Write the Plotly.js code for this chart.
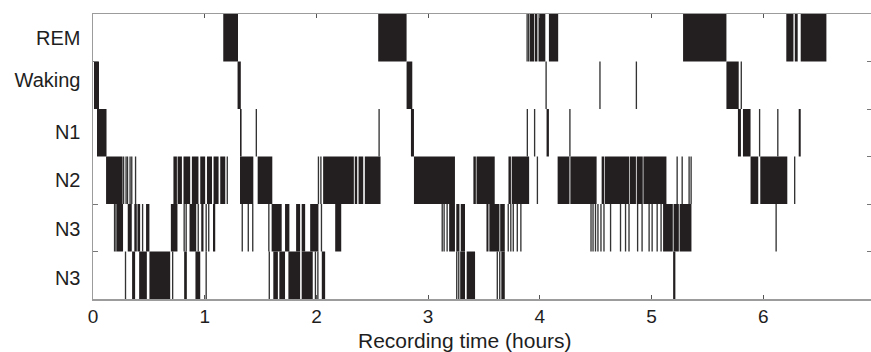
<!DOCTYPE html>
<html>
<head>
<meta charset="utf-8">
<script src="https://cdn.plot.ly/plotly-3.0.1.min.js"></script>
<style>
html,body{margin:0;padding:0;background:#fff;overflow:hidden;}
#chart{width:875px;height:352px;}
</style>
</head>
<body>
<div id="chart"></div>
<script>
// Stage rows, bottom to top (each row spans one unit on the y axis)
const stageLabels = ['N3', 'N3', 'N2', 'N1', 'Waking', 'REM'];
const xTicks = [0, 1, 2, 3, 4, 5, 6, 7];

// Solid periods [start, end] in hours, per row
const remBlocks = [[1.166,1.298],[2.553,2.807],[3.910,3.949],[3.955,3.978],[3.988,4.049],[4.081,4.164],[5.282,5.670],[6.206,6.270],[6.282,6.308],[6.335,6.565]];
const remLines = [3.886, 3.900];

const wakeBlocks = [[0.009,0.054],[1.294,1.323],[2.807,2.858],[5.670,5.780]];
const wakeLines = [4.056, 4.538, 4.864, 5.803];

const n1Blocks = [[0.036,0.121],[1.316,1.330],[2.846,2.873],[4.060,4.081],[5.773,5.800],[5.818,5.886],[6.317,6.335]];
const n1Lines = [1.462, 2.561, 3.888, 3.953, 4.269, 5.967, 6.130];

const n2Blocks = [[0.117,0.265],[0.720,0.751],[0.757,0.796],[0.810,0.870],[0.885,0.944],[0.960,1.004],[1.020,1.065],[1.079,1.124],[1.139,1.184],[1.316,1.435],[1.474,1.605],[2.060,2.335],[2.343,2.365],[2.377,2.419],[2.433,2.574],[2.873,3.240],[3.405,3.427],[3.433,3.596],[3.719,3.741],[3.748,3.904],[4.159,4.265],[4.273,4.508],[4.553,4.577],[4.583,4.801],[4.807,4.860],[4.867,4.921],[4.927,5.133],[5.886,5.955],[5.973,6.215]];
const n2Lines = [0.274, 0.296, 0.309, 0.332, 0.347, 0.381, 1.202, 2.018, 2.040, 3.978, 5.229, 5.274, 5.336, 5.354, 6.281];

const n3Blocks = [[0.213,0.269],[0.311,0.347],[0.370,0.392],[0.398,0.422],[0.475,0.505],[0.697,0.756],[0.864,0.924],[0.969,0.989],[1.074,1.094],[1.599,1.689],[1.719,1.758],[1.818,1.854],[1.868,1.899],[1.944,2.018],[2.168,2.222],[3.188,3.240],[3.252,3.280],[3.292,3.330],[3.522,3.540],[3.548,3.638],[3.645,3.686],[5.103,5.190],[5.197,5.244],[5.251,5.357]];
const n3Lines = [0.193, 0.206, 0.444, 0.816, 0.834, 0.942, 1.013, 1.036, 1.336, 1.390, 1.430, 1.574, 2.045, 3.126, 3.143, 3.170, 3.717, 3.740, 3.762, 3.798, 3.830, 4.458, 4.476, 4.498, 4.520, 4.547, 4.574, 4.633, 4.722, 4.767, 4.798, 4.875, 4.915, 4.978, 5.005, 5.050, 5.085, 6.115];

const n4Blocks = [[0.350,0.377],[0.413,0.482],[0.505,0.691],[0.816,0.840],[0.917,0.960],[1.614,1.655],[1.668,1.719],[1.749,1.854],[1.868,1.967],[2.048,2.078],[3.287,3.330],[3.345,3.420],[3.655,3.686],[5.193,5.213]];
const n4Lines = [0.291, 0.713, 1.013, 1.578, 1.991, 2.013, 3.256, 3.274, 3.619, 3.641];

const rows = [
  [n4Blocks, n4Lines],
  [n3Blocks, n3Lines],
  [n2Blocks, n2Lines],
  [n1Blocks, n1Lines],
  [wakeBlocks, wakeLines],
  [remBlocks, remLines]
];

const BLACK = '#231f20';
const LINE_W = 0.012;
const traces = [];
rows.forEach(function(r, level) {
  const blocks = r[0], lines = r[1];
  traces.push({
    type: 'bar',
    x: blocks.map(b => (b[0] + b[1]) / 2),
    width: blocks.map(b => b[1] - b[0]),
    y: blocks.map(() => 1),
    base: level,
    marker: {color: BLACK, line: {width: 0}},
    hoverinfo: 'skip'
  });
  traces.push({
    type: 'bar',
    x: lines,
    width: lines.map(() => LINE_W),
    y: lines.map(() => 1),
    base: level,
    marker: {color: '#333333', line: {width: 0}},
    hoverinfo: 'skip'
  });
});
// helper traces so the tick-only axes get drawn
traces.push({type: 'scatter', x: [0], y: [0], yaxis: 'y2', mode: 'markers', marker: {opacity: 0}, hoverinfo: 'skip'});
traces.push({type: 'scatter', x: [0], y: [0], yaxis: 'y3', mode: 'markers', marker: {opacity: 0}, hoverinfo: 'skip'});

const GRAY = '#9c9c9c';
const layout = {
  width: 875, height: 352,
  margin: {l: 93, r: 0, t: 14, b: 53},
  paper_bgcolor: '#ffffff', plot_bgcolor: '#ffffff',
  barmode: 'overlay', showlegend: false,
  font: {family: 'Liberation Sans, Arial, sans-serif', color: '#1e1e1e'},
  xaxis: {
    range: [0, 7], tickvals: xTicks, ticktext: xTicks.map(String),
    ticks: 'inside', ticklen: 4, tickcolor: '#555', tickwidth: 1,
    showline: true, linecolor: GRAY, linewidth: 1.5, mirror: 'ticks',
    showgrid: false, zeroline: false, tickfont: {size: 19}
  },
  yaxis: {
    range: [0, 6], tickvals: [0.44, 1.47, 2.5, 3.52, 4.61, 5.49], ticktext: stageLabels,
    ticks: '', showline: true, linecolor: GRAY, linewidth: 1.5,
    showgrid: false, zeroline: false, tickfont: {size: 20}, ticklabelstandoff: 7
  },
  yaxis2: {
    overlaying: 'y', side: 'right', range: [0, 6], tickvals: [1, 2, 3, 4, 5],
    ticks: 'inside', ticklen: 8, tickcolor: '#777', showticklabels: false,
    showgrid: false, zeroline: false, showline: false
  },
  yaxis3: {
    overlaying: 'y', side: 'left', range: [0, 6], tickvals: [1, 2, 5],
    ticks: 'inside', ticklen: 5, tickcolor: '#777', showticklabels: false,
    showgrid: false, zeroline: false, showline: false
  },
  annotations: [{
    text: 'Recording time (hours)', xref: 'paper', yref: 'paper',
    x: 0.476, y: -0.147, xanchor: 'center', yanchor: 'middle',
    showarrow: false, font: {size: 21, color: '#1e1e1e'}
  }]
};

Plotly.newPlot('chart', traces, layout, {staticPlot: true, displayModeBar: false});
</script>
</body>
</html>
